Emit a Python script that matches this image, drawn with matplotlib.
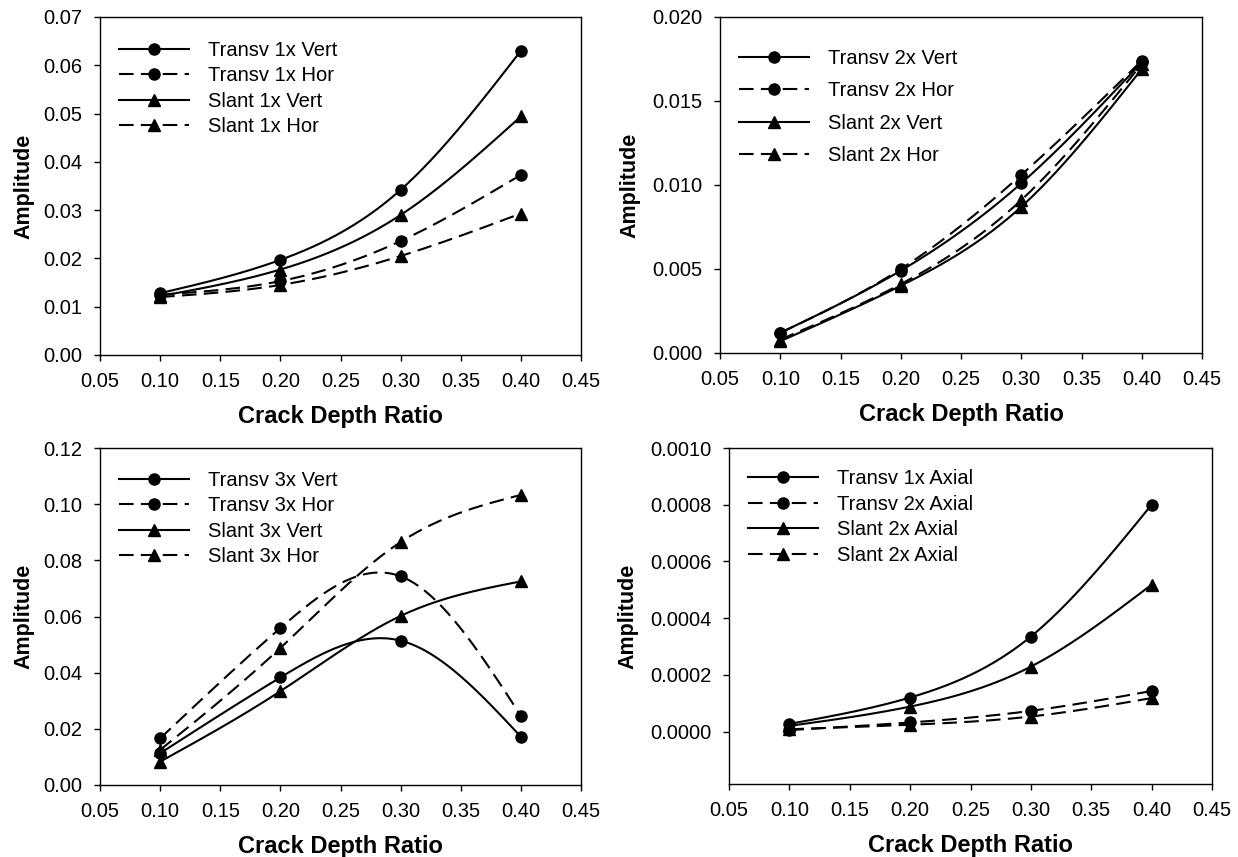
import numpy as np
import matplotlib
matplotlib.use("Agg")
import matplotlib.pyplot as plt
from matplotlib.lines import Line2D

plt.rcParams['font.family'] = ['Liberation Sans', 'DejaVu Sans']

depth = [0.10, 0.20, 0.30, 0.40]

# Panel 1 (top-left)
p1_labels = ["Transv 1x Vert", "Transv 1x Hor", "Slant 1x Vert", "Slant 1x Hor"]
transv_1x_vert = [0.0128, 0.0197, 0.0342, 0.0630]
transv_1x_hor = [0.0125, 0.0153, 0.0236, 0.0373]
slant_1x_vert = [0.0122, 0.0177, 0.0290, 0.0494]
slant_1x_hor = [0.0120, 0.0145, 0.0205, 0.0293]

# Panel 2 (top-right)
p2_labels = ["Transv 2x Vert", "Transv 2x Hor", "Slant 2x Vert", "Slant 2x Hor"]
transv_2x_vert = [0.0012, 0.0049, 0.0101, 0.0173]
transv_2x_hor = [0.0012, 0.0050, 0.0106, 0.0174]
slant_2x_vert = [0.0007, 0.0040, 0.0087, 0.0169]
slant_2x_hor = [0.0008, 0.0041, 0.0091, 0.0172]

# Panel 3 (bottom-left)
p3_labels = ["Transv 3x Vert", "Transv 3x Hor", "Slant 3x Vert", "Slant 3x Hor"]
transv_3x_vert = [0.0113, 0.0383, 0.0514, 0.0172]
transv_3x_hor = [0.0166, 0.0559, 0.0743, 0.0246]
slant_3x_vert = [0.0083, 0.0334, 0.0602, 0.0725]
slant_3x_hor = [0.0125, 0.0488, 0.0865, 0.1033]

# Panel 4 (bottom-right)
p4_labels = ["Transv 1x Axial", "Transv 2x Axial", "Slant 2x Axial", "Slant 2x Axial"]
transv_1x_axial = [0.000027, 0.000120, 0.000335, 0.000800]
transv_2x_axial = [0.000005, 0.000032, 0.000073, 0.000143]
slant_2x_axial_a = [0.000020, 0.000088, 0.000229, 0.000518]
slant_2x_axial_b = [0.000008, 0.000024, 0.000053, 0.000118]

x_ticks = [0.05, 0.10, 0.15, 0.20, 0.25, 0.30, 0.35, 0.40, 0.45]


def smooth(x, y, n=60):
    """Natural cubic spline drawn through the data points (rendering only)."""
    x = np.asarray(x, float)
    y = np.asarray(y, float)
    k = len(x)
    h = np.diff(x)
    A = np.zeros((k, k))
    b = np.zeros(k)
    A[0, 0] = 1
    A[-1, -1] = 1
    for i in range(1, k - 1):
        A[i, i - 1] = h[i - 1]
        A[i, i] = 2 * (h[i - 1] + h[i])
        A[i, i + 1] = h[i]
        b[i] = 6 * ((y[i + 1] - y[i]) / h[i] - (y[i] - y[i - 1]) / h[i - 1])
    M = np.linalg.solve(A, b)
    xs, ys = [], []
    for i in range(k - 1):
        t = np.linspace(x[i], x[i + 1], n, endpoint=(i == k - 2))
        hi = h[i]
        s = (M[i] * (x[i + 1] - t) ** 3 / (6 * hi) + M[i + 1] * (t - x[i]) ** 3 / (6 * hi)
             + (y[i] / hi - M[i] * hi / 6) * (x[i + 1] - t)
             + (y[i + 1] / hi - M[i + 1] * hi / 6) * (t - x[i]))
        xs.append(t)
        ys.append(s)
    return np.concatenate(xs), np.concatenate(ys)


W, H = 1238, 857
fig = plt.figure(figsize=(W / 100, H / 100), dpi=100)


def add_ax(l, t, r, b):
    return fig.add_axes([l / W, 1 - b / H, (r - l) / W, (b - t) / H])


DASH = (0, (7, 3.5))
styles = [('-', 'o'), (DASH, 'o'), ('-', '^'), (DASH, '^')]


def panel(ax, series, labels, ylim, yticks, yfmt, leg_top_px, spacing, ylabelpad):
    for (ls, mk), ys, lab in zip(styles, series, labels):
        sx, sy = smooth(depth, ys)
        ax.plot(sx, sy, color='black', lw=1.5, ls=ls)
        ax.plot(depth, ys, ls='none', marker=mk, color='black', ms=8 if mk == 'o' else 8.5)
    handles = [Line2D([], [], color='black', lw=1.5, ls=ls, marker=mk, ms=8)
               for ls, mk in styles]
    bb = ax.get_position()
    ax_w = bb.width * W
    ax_h = bb.height * H
    ax.legend(handles, labels, loc='upper left',
              bbox_to_anchor=(19 / ax_w, 1 - leg_top_px / ax_h),
              frameon=False, fontsize=14.5, handlelength=3.5, handletextpad=0.9,
              labelspacing=spacing, borderaxespad=0, borderpad=0)
    ax.set_xlim(0.05, 0.45)
    ax.set_xticks(x_ticks)
    ax.set_xticklabels([f"{v:.2f}" for v in x_ticks])
    ax.set_ylim(*ylim)
    ax.set_yticks(yticks)
    ax.set_yticklabels([yfmt.format(v) for v in yticks])
    ax.tick_params(direction='out', length=4, width=1, labelsize=14.5)
    ax.tick_params(axis='x', pad=8)
    ax.tick_params(axis='y', pad=8.5)
    for sp in ax.spines.values():
        sp.set_linewidth(1.0)
    ax.set_xlabel("Crack Depth Ratio", fontsize=17, fontweight='bold', labelpad=10)
    ax.set_ylabel("Amplitude", fontsize=15.5, fontweight='bold', labelpad=ylabelpad)


ax1 = add_ax(100, 17, 581, 355)
panel(ax1, [transv_1x_vert, transv_1x_hor, slant_1x_vert, slant_1x_hor], p1_labels,
      (0, 0.07), [0, 0.01, 0.02, 0.03, 0.04, 0.05, 0.06, 0.07], "{:.2f}", 24, 0.32, 6.5)

ax2 = add_ax(720, 17, 1202, 353)
panel(ax2, [transv_2x_vert, transv_2x_hor, slant_2x_vert, slant_2x_hor], p2_labels,
      (0, 0.020), [0, 0.005, 0.010, 0.015, 0.020], "{:.3f}", 32, 0.66, 8.5)

ax3 = add_ax(100, 448, 581, 785)
panel(ax3, [transv_3x_vert, transv_3x_hor, slant_3x_vert, slant_3x_hor], p3_labels,
      (0, 0.12), [0, 0.02, 0.04, 0.06, 0.08, 0.10, 0.12], "{:.2f}", 23, 0.32, 6.5)

ax4 = add_ax(729, 448, 1212, 784)
panel(ax4, [transv_1x_axial, transv_2x_axial, slant_2x_axial_a, slant_2x_axial_b], p4_labels,
      (-0.000185, 0.0010), [0, 0.0002, 0.0004, 0.0006, 0.0008, 0.0010], "{:.4f}", 21, 0.33, 8.5)

fig.savefig("out.png", dpi=100)
